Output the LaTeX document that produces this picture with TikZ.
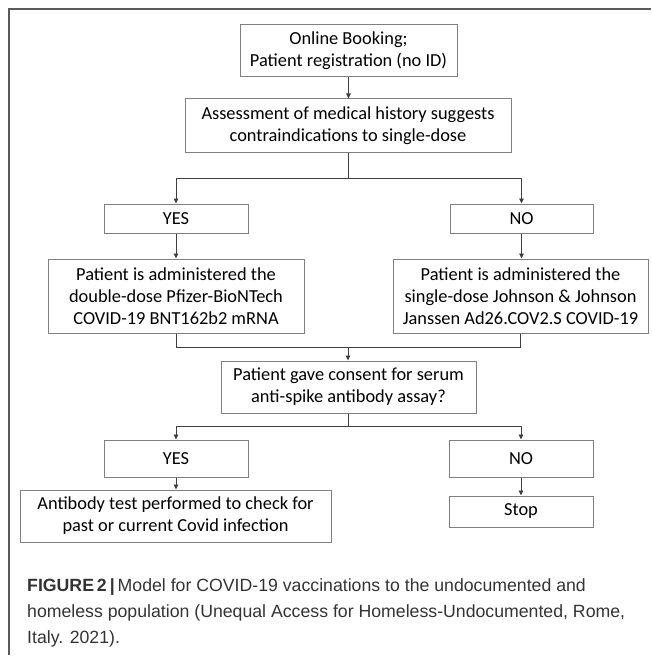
\documentclass[tikz,border=0pt]{standalone}
\usepackage{fontspec}
\usetikzlibrary{arrows.meta}
\newfontfamily\boxfont{Carlito}
\newfontfamily\capfont{Liberation Sans}
\definecolor{boxgray}{HTML}{7F7F7F}
\definecolor{linegray}{HTML}{3F3F3F}
\definecolor{framegray}{HTML}{5A5A5A}
\definecolor{captext}{HTML}{333333}
\newsavebox\measbox
\begin{document}
\sbox\measbox{\boxfont\fontsize{10pt}{12pt}\selectfont Assessment of medical history suggests}%
\pgfmathsetmacro\bfs{10*293/\the\wd\measbox}%
\sbox\measbox{\capfont\fontsize{10pt}{12pt}\selectfont homeless population (Unequal Access for Homeless-Undocumented, Rome,}%
\pgfmathsetmacro\cfs{10*598/\the\wd\measbox}%
\begin{tikzpicture}[x=1pt,y=-1pt]
\tikzset{
  bx/.style={draw=boxgray, line width=1pt, align=center, inner sep=0pt,
    text=black, font=\boxfont\fontsize{\bfs pt}{22pt}\selectfont},
  conn/.style={draw=linegray, line width=0.9pt},
  arr/.style={conn, -{Triangle[length=5pt,width=4.5pt]}},
  captxt/.style={anchor=base west, inner sep=0pt, text=captext,
    font=\capfont\fontsize{\cfs pt}{26pt}\selectfont}
}
\useasboundingbox (0,0) rectangle (651,658);
% frame
\draw[framegray, line width=1.2pt] (9,655) -- (9,9) -- (651,9);
% nodes
\node[bx, minimum width=217pt, minimum height=52pt] (b1) at (348.5,51) {Online Booking;\\Patient registration (no ID)};
\node[bx, minimum width=326pt, minimum height=53pt] (b2) at (348,125.5) {Assessment of medical history suggests\\contraindications to single-dose};
\node[bx, minimum width=144pt, minimum height=29pt] (yes1) at (176,218.5) {YES};
\node[bx, minimum width=143pt, minimum height=29pt] (no1) at (521.5,218.5) {NO};
\node[bx, minimum width=256pt, minimum height=74pt] (pf) at (176,296) {Patient is administered the\\double-dose Pfizer-BioNTech\\COVID-19 BNT162b2 mRNA};
\node[bx, minimum width=255pt, minimum height=74pt] (jj) at (520.5,296) {Patient is administered the\\single-dose Johnson \& Johnson\\Janssen Ad26.COV2.S COVID-19};
\node[bx, minimum width=255pt, minimum height=52pt] (cons) at (348.5,387) {Patient gave consent for serum\\anti-spike antibody assay?};
\node[bx, minimum width=144pt, minimum height=37pt] (yes2) at (176,458.5) {YES};
\node[bx, minimum width=144pt, minimum height=37pt] (no2) at (521,458.5) {NO};
\node[bx, minimum width=311pt, minimum height=52pt] (ab) at (175.5,516) {Antibody test performed to check for\\past or current Covid infection};
\node[bx, minimum width=144pt, minimum height=31pt] (stop) at (521,511.5) {Stop};
% connectors
\coordinate (j1) at (348,178);
\coordinate (j2) at (348,347);
\coordinate (j3) at (348,426);
\draw[arr] (b1.south) -- (b1.south |- b2.north);
\draw[conn] (b2.south) -- (b2.south |- j1);
\draw[conn] (yes1.north |- j1) -- (no1.north |- j1);
\draw[arr] (yes1.north |- j1) -- (yes1.north);
\draw[arr] (no1.north |- j1) -- (no1.north);
\draw[arr] (yes1.south) -- (yes1.south |- pf.north);
\draw[arr] (no1.south) -- (no1.south |- jj.north);
\draw[conn] (pf.south) -- (pf.south |- j2) -- (jj.south |- j2) -- (jj.south);
\draw[arr] (j2) -- (j2 |- cons.north);
\draw[conn] (cons.south) -- (cons.south |- j3);
\draw[conn] (yes2.north |- j3) -- (no2.north |- j3);
\draw[arr] (yes2.north |- j3) -- (yes2.north);
\draw[arr] (no2.north |- j3) -- (no2.north);
\draw[arr] (yes2.south) -- (yes2.south |- ab.north);
\draw[arr] (no2.south) -- (no2.south |- stop.north);
% caption
\node[captxt] (cap1) at (27,591) {{\bfseries FIGURE\,2\,|\,}Model for COVID-19 vaccinations to the undocumented and};
\node[captxt] (cap2) at (27,617) {homeless population (Unequal Access for Homeless-Undocumented, Rome,};
\node[captxt] (cap3) at (27,643) {Italy. 2021).};
\end{tikzpicture}
\end{document}
